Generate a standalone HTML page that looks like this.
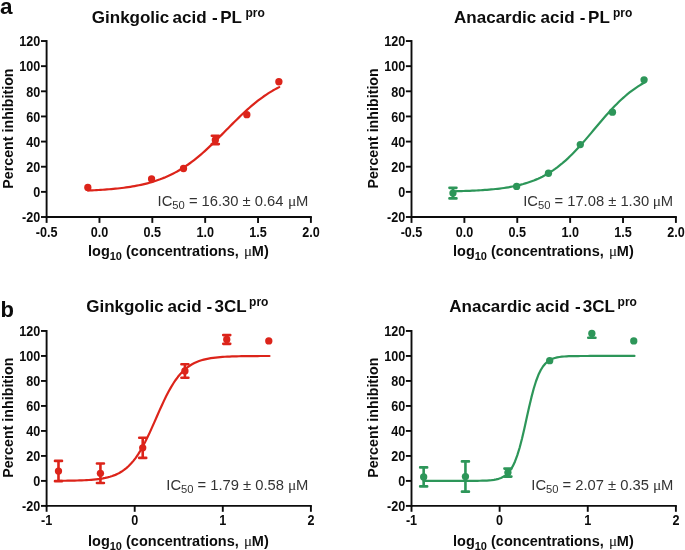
<!DOCTYPE html><html><head><meta charset="utf-8"><title>IC50 curves</title><style>html,body{margin:0;padding:0;background:#fff}svg{display:block}</style></head><body>
<svg width="685" height="550" viewBox="0 0 685 550">
<rect width="685" height="550" fill="#fff"/>
<text font-family="Liberation Sans, Arial, sans-serif" font-weight="bold" font-size="22.5" fill="#0c0c0c" x="0" y="13.6">a</text>
<text font-family="Liberation Sans, Arial, sans-serif" font-weight="bold" font-size="22" fill="#0c0c0c" x="0.5" y="317.4">b</text>
<g stroke="#0c0c0c" stroke-width="1.9" fill="none" stroke-linecap="butt">
<path d="M46.60 40.07V217.95"/>
<path d="M45.65 217.00H311.85"/>
<path d="M41.00 217.00H46.60"/>
<path d="M41.00 191.86H46.60"/>
<path d="M41.00 166.72H46.60"/>
<path d="M41.00 141.58H46.60"/>
<path d="M41.00 116.44H46.60"/>
<path d="M41.00 91.30H46.60"/>
<path d="M41.00 66.16H46.60"/>
<path d="M41.00 41.02H46.60"/>
<path d="M46.60 217.00V222.90"/>
<path d="M99.46 217.00V222.90"/>
<path d="M152.32 217.00V222.90"/>
<path d="M205.18 217.00V222.90"/>
<path d="M258.04 217.00V222.90"/>
<path d="M310.90 217.00V222.90"/>
</g>
<g font-family="Liberation Sans, Arial, sans-serif" font-weight="bold" font-size="14.4" fill="#0c0c0c">
<text transform="translate(40.25 222.30) scale(0.875 1)" text-anchor="end">-20</text>
<text transform="translate(40.25 197.16) scale(0.875 1)" text-anchor="end">0</text>
<text transform="translate(40.25 172.02) scale(0.875 1)" text-anchor="end">20</text>
<text transform="translate(40.25 146.88) scale(0.875 1)" text-anchor="end">40</text>
<text transform="translate(40.25 121.74) scale(0.875 1)" text-anchor="end">60</text>
<text transform="translate(40.25 96.60) scale(0.875 1)" text-anchor="end">80</text>
<text transform="translate(40.25 71.46) scale(0.875 1)" text-anchor="end">100</text>
<text transform="translate(40.25 46.32) scale(0.875 1)" text-anchor="end">120</text>
<text transform="translate(46.60 236.50) scale(0.875 1)" text-anchor="middle">-0.5</text>
<text transform="translate(99.46 236.50) scale(0.875 1)" text-anchor="middle">0.0</text>
<text transform="translate(152.32 236.50) scale(0.875 1)" text-anchor="middle">0.5</text>
<text transform="translate(205.18 236.50) scale(0.875 1)" text-anchor="middle">1.0</text>
<text transform="translate(258.04 236.50) scale(0.875 1)" text-anchor="middle">1.5</text>
<text transform="translate(310.90 236.50) scale(0.875 1)" text-anchor="middle">2.0</text>
</g>
<text font-family="Liberation Sans, Arial, sans-serif" font-weight="bold" font-size="14.5" fill="#0c0c0c" x="88" y="255.7">log<tspan font-size="11" dy="3.8">10</tspan><tspan dy="-3.8"> (concentrations, </tspan><tspan font-family="Liberation Serif, serif" font-weight="normal" font-size="15" dx="1.2">μ</tspan><tspan dx="-0.3">M)</tspan></text>
<text font-family="Liberation Sans, Arial, sans-serif" font-weight="bold" font-size="14.25" fill="#0c0c0c" transform="translate(12.9 128.6) rotate(-90)" text-anchor="middle">Percent inhibition</text>
<text font-family="Liberation Sans, Arial, sans-serif" font-weight="bold" font-size="17" fill="#0c0c0c" y="23"><tspan x="91.80">Ginkgolic </tspan><tspan x="172.60">acid </tspan><tspan x="212.00">- </tspan><tspan x="220.20">PL</tspan><tspan font-size="12" dy="-6.3" x="245.40">pro</tspan></text>
<text font-family="Liberation Sans, Arial, sans-serif" font-size="14.75" fill="#333" x="157.6" y="205.8">IC<tspan font-size="11.2" dy="3.6">50</tspan><tspan dy="-3.6"> = 16.30 ± 0.64 </tspan><tspan font-family="Liberation Serif, serif" font-size="15.5" x="287.90">μ</tspan><tspan x="296.00">M</tspan></text>
<path d="M87.83 190.53L89.96 190.44L92.08 190.34L94.21 190.24L96.34 190.13L98.46 190.01L100.59 189.88L102.71 189.74L104.84 189.60L106.97 189.44L109.09 189.27L111.22 189.09L113.34 188.90L115.47 188.70L117.60 188.48L119.72 188.24L121.85 187.99L123.98 187.72L126.10 187.44L128.23 187.13L130.35 186.81L132.48 186.46L134.61 186.09L136.73 185.70L138.86 185.28L140.98 184.83L143.11 184.35L145.24 183.85L147.36 183.31L149.49 182.73L151.62 182.13L153.74 181.48L155.87 180.80L157.99 180.07L160.12 179.31L162.25 178.49L164.37 177.64L166.50 176.73L168.62 175.78L170.75 174.77L172.88 173.71L175.00 172.60L177.13 171.44L179.26 170.21L181.38 168.93L183.51 167.60L185.63 166.20L187.76 164.75L189.89 163.23L192.01 161.66L194.14 160.03L196.26 158.35L198.39 156.61L200.52 154.82L202.64 152.98L204.77 151.09L206.90 149.15L209.02 147.17L211.15 145.16L213.27 143.11L215.40 141.03L217.53 138.92L219.65 136.79L221.78 134.65L223.90 132.50L226.03 130.34L228.16 128.19L230.28 126.04L232.41 123.90L234.53 121.77L236.66 119.67L238.79 117.59L240.91 115.55L243.04 113.53L245.17 111.56L247.29 109.63L249.42 107.74L251.54 105.91L253.67 104.12L255.80 102.39L257.92 100.71L260.05 99.09L262.17 97.53L264.30 96.02L266.43 94.58L268.55 93.19L270.68 91.86L272.81 90.58L274.93 89.37L277.06 88.21L279.18 87.10" fill="none" stroke="#dc241a" stroke-width="2.2" stroke-linecap="round" stroke-linejoin="round"/>
<circle cx="87.83" cy="187.46" r="3.65" fill="#dc241a"/>
<circle cx="151.58" cy="178.91" r="3.65" fill="#dc241a"/>
<circle cx="183.51" cy="168.48" r="3.65" fill="#dc241a"/>
<path d="M215.33 135.80V144.09M211.83 135.80h7.0M211.83 144.09h7.0" stroke="#dc241a" stroke-width="2.6" fill="none" stroke-linecap="round"/>
<circle cx="215.33" cy="139.95" r="3.65" fill="#dc241a"/>
<circle cx="246.83" cy="114.68" r="3.65" fill="#dc241a"/>
<circle cx="278.87" cy="81.75" r="3.65" fill="#dc241a"/>
<g stroke="#0c0c0c" stroke-width="1.9" fill="none" stroke-linecap="butt">
<path d="M411.50 40.07V217.95"/>
<path d="M410.55 217.00H676.85"/>
<path d="M405.90 217.00H411.50"/>
<path d="M405.90 191.86H411.50"/>
<path d="M405.90 166.72H411.50"/>
<path d="M405.90 141.58H411.50"/>
<path d="M405.90 116.44H411.50"/>
<path d="M405.90 91.30H411.50"/>
<path d="M405.90 66.16H411.50"/>
<path d="M405.90 41.02H411.50"/>
<path d="M411.50 217.00V222.90"/>
<path d="M464.38 217.00V222.90"/>
<path d="M517.26 217.00V222.90"/>
<path d="M570.14 217.00V222.90"/>
<path d="M623.02 217.00V222.90"/>
<path d="M675.90 217.00V222.90"/>
</g>
<g font-family="Liberation Sans, Arial, sans-serif" font-weight="bold" font-size="14.4" fill="#0c0c0c">
<text transform="translate(405.15 222.30) scale(0.875 1)" text-anchor="end">-20</text>
<text transform="translate(405.15 197.16) scale(0.875 1)" text-anchor="end">0</text>
<text transform="translate(405.15 172.02) scale(0.875 1)" text-anchor="end">20</text>
<text transform="translate(405.15 146.88) scale(0.875 1)" text-anchor="end">40</text>
<text transform="translate(405.15 121.74) scale(0.875 1)" text-anchor="end">60</text>
<text transform="translate(405.15 96.60) scale(0.875 1)" text-anchor="end">80</text>
<text transform="translate(405.15 71.46) scale(0.875 1)" text-anchor="end">100</text>
<text transform="translate(405.15 46.32) scale(0.875 1)" text-anchor="end">120</text>
<text transform="translate(411.50 236.50) scale(0.875 1)" text-anchor="middle">-0.5</text>
<text transform="translate(464.38 236.50) scale(0.875 1)" text-anchor="middle">0.0</text>
<text transform="translate(517.26 236.50) scale(0.875 1)" text-anchor="middle">0.5</text>
<text transform="translate(570.14 236.50) scale(0.875 1)" text-anchor="middle">1.0</text>
<text transform="translate(623.02 236.50) scale(0.875 1)" text-anchor="middle">1.5</text>
<text transform="translate(675.90 236.50) scale(0.875 1)" text-anchor="middle">2.0</text>
</g>
<text font-family="Liberation Sans, Arial, sans-serif" font-weight="bold" font-size="14.5" fill="#0c0c0c" x="453" y="255.7">log<tspan font-size="11" dy="3.8">10</tspan><tspan dy="-3.8"> (concentrations, </tspan><tspan font-family="Liberation Serif, serif" font-weight="normal" font-size="15" dx="1.2">μ</tspan><tspan dx="-0.3">M)</tspan></text>
<text font-family="Liberation Sans, Arial, sans-serif" font-weight="bold" font-size="14.25" fill="#0c0c0c" transform="translate(377.9 128.4) rotate(-90)" text-anchor="middle">Percent inhibition</text>
<text font-family="Liberation Sans, Arial, sans-serif" font-weight="bold" font-size="17" fill="#0c0c0c" y="23"><tspan x="454.10">Anacardic </tspan><tspan x="540.60">acid </tspan><tspan x="579.80">- </tspan><tspan x="588.10">PL</tspan><tspan font-size="12" dy="-6.3" x="613.00">pro</tspan></text>
<text font-family="Liberation Sans, Arial, sans-serif" font-size="14.75" fill="#333" x="523.2" y="205.8">IC<tspan font-size="11.2" dy="3.6">50</tspan><tspan dy="-3.6"> = 17.08 ± 1.30 </tspan><tspan font-family="Liberation Serif, serif" font-size="15.5" x="652.70">μ</tspan><tspan x="660.80">M</tspan></text>
<path d="M452.96 191.31L455.09 191.26L457.21 191.21L459.34 191.15L461.47 191.09L463.60 191.02L465.73 190.95L467.85 190.87L469.98 190.79L472.11 190.69L474.24 190.60L476.37 190.49L478.50 190.37L480.62 190.25L482.75 190.11L484.88 189.96L487.01 189.80L489.14 189.63L491.26 189.45L493.39 189.24L495.52 189.03L497.65 188.79L499.78 188.54L501.90 188.26L504.03 187.97L506.16 187.65L508.29 187.31L510.42 186.94L512.55 186.54L514.67 186.11L516.80 185.64L518.93 185.15L521.06 184.61L523.19 184.04L525.31 183.42L527.44 182.76L529.57 182.05L531.70 181.29L533.83 180.48L535.95 179.61L538.08 178.69L540.21 177.70L542.34 176.65L544.47 175.54L546.60 174.35L548.72 173.10L550.85 171.77L552.98 170.36L555.11 168.88L557.24 167.32L559.36 165.68L561.49 163.97L563.62 162.17L565.75 160.30L567.88 158.35L570.00 156.32L572.13 154.23L574.26 152.06L576.39 149.83L578.52 147.54L580.65 145.19L582.77 142.80L584.90 140.36L587.03 137.88L589.16 135.38L591.29 132.86L593.41 130.33L595.54 127.79L597.67 125.25L599.80 122.73L601.93 120.23L604.05 117.76L606.18 115.32L608.31 112.93L610.44 110.58L612.57 108.30L614.70 106.07L616.82 103.90L618.95 101.81L621.08 99.79L623.21 97.84L625.34 95.97L627.46 94.18L629.59 92.47L631.72 90.83L633.85 89.28L635.98 87.80L638.10 86.40L640.23 85.07L642.36 83.82L644.49 82.64" fill="none" stroke="#2d9659" stroke-width="2.2" stroke-linecap="round" stroke-linejoin="round"/>
<path d="M452.96 187.84V198.40M449.46 187.84h7.0M449.46 198.40h7.0" stroke="#2d9659" stroke-width="2.6" fill="none" stroke-linecap="round"/>
<circle cx="452.96" cy="193.12" r="3.65" fill="#2d9659"/>
<circle cx="516.63" cy="186.45" r="3.65" fill="#2d9659"/>
<circle cx="548.46" cy="173.26" r="3.65" fill="#2d9659"/>
<circle cx="580.29" cy="144.60" r="3.65" fill="#2d9659"/>
<circle cx="612.44" cy="112.17" r="3.65" fill="#2d9659"/>
<circle cx="644.07" cy="79.86" r="3.65" fill="#2d9659"/>
<g stroke="#0c0c0c" stroke-width="1.9" fill="none" stroke-linecap="butt">
<path d="M46.60 330.02V506.85"/>
<path d="M45.65 505.90H311.85"/>
<path d="M41.00 505.90H46.60"/>
<path d="M41.00 480.91H46.60"/>
<path d="M41.00 455.92H46.60"/>
<path d="M41.00 430.93H46.60"/>
<path d="M41.00 405.94H46.60"/>
<path d="M41.00 380.95H46.60"/>
<path d="M41.00 355.96H46.60"/>
<path d="M41.00 330.97H46.60"/>
<path d="M46.60 505.90V511.80"/>
<path d="M134.70 505.90V511.80"/>
<path d="M222.80 505.90V511.80"/>
<path d="M310.90 505.90V511.80"/>
</g>
<g font-family="Liberation Sans, Arial, sans-serif" font-weight="bold" font-size="14.4" fill="#0c0c0c">
<text transform="translate(40.25 511.20) scale(0.875 1)" text-anchor="end">-20</text>
<text transform="translate(40.25 486.21) scale(0.875 1)" text-anchor="end">0</text>
<text transform="translate(40.25 461.22) scale(0.875 1)" text-anchor="end">20</text>
<text transform="translate(40.25 436.23) scale(0.875 1)" text-anchor="end">40</text>
<text transform="translate(40.25 411.24) scale(0.875 1)" text-anchor="end">60</text>
<text transform="translate(40.25 386.25) scale(0.875 1)" text-anchor="end">80</text>
<text transform="translate(40.25 361.26) scale(0.875 1)" text-anchor="end">100</text>
<text transform="translate(40.25 336.27) scale(0.875 1)" text-anchor="end">120</text>
<text transform="translate(46.60 525.40) scale(0.875 1)" text-anchor="middle">-1</text>
<text transform="translate(134.70 525.40) scale(0.875 1)" text-anchor="middle">0</text>
<text transform="translate(222.80 525.40) scale(0.875 1)" text-anchor="middle">1</text>
<text transform="translate(310.90 525.40) scale(0.875 1)" text-anchor="middle">2</text>
</g>
<text font-family="Liberation Sans, Arial, sans-serif" font-weight="bold" font-size="14.5" fill="#0c0c0c" x="88" y="545.8">log<tspan font-size="11" dy="3.8">10</tspan><tspan dy="-3.8"> (concentrations, </tspan><tspan font-family="Liberation Serif, serif" font-weight="normal" font-size="15" dx="1.2">μ</tspan><tspan dx="-0.3">M)</tspan></text>
<text font-family="Liberation Sans, Arial, sans-serif" font-weight="bold" font-size="14.25" fill="#0c0c0c" transform="translate(12.9 417.7) rotate(-90)" text-anchor="middle">Percent inhibition</text>
<text font-family="Liberation Sans, Arial, sans-serif" font-weight="bold" font-size="17" fill="#0c0c0c" y="312.2"><tspan x="86.20">Ginkgolic </tspan><tspan x="167.60">acid </tspan><tspan x="206.40">- </tspan><tspan x="214.50">3CL</tspan><tspan font-size="12" dy="-6.3" x="249.10">pro</tspan></text>
<text font-family="Liberation Sans, Arial, sans-serif" font-size="14.75" fill="#333" x="166.3" y="489.8">IC<tspan font-size="11.2" dy="3.6">50</tspan><tspan dy="-3.6"> = 1.79 ± 0.58 </tspan><tspan font-family="Liberation Serif, serif" font-size="15.5" x="287.90">μ</tspan><tspan x="296.00">M</tspan></text>
<path d="M58.32 480.81L60.66 480.79L63.01 480.77L65.36 480.75L67.70 480.72L70.05 480.68L72.40 480.64L74.74 480.58L77.09 480.52L79.43 480.45L81.78 480.37L84.13 480.26L86.47 480.14L88.82 480.00L91.17 479.83L93.51 479.63L95.86 479.40L98.21 479.12L100.55 478.79L102.90 478.40L105.25 477.94L107.59 477.40L109.94 476.77L112.28 476.02L114.63 475.15L116.98 474.12L119.32 472.93L121.67 471.55L124.02 469.95L126.36 468.11L128.71 466.00L131.06 463.59L133.40 460.87L135.75 457.81L138.09 454.40L140.44 450.63L142.79 446.52L145.13 442.08L147.48 437.35L149.83 432.36L152.17 427.17L154.52 421.86L156.87 416.50L159.21 411.17L161.56 405.94L163.91 400.89L166.25 396.08L168.60 391.55L170.94 387.35L173.29 383.49L175.64 379.98L177.98 376.82L180.33 374.01L182.68 371.51L185.02 369.32L187.37 367.41L189.72 365.74L192.06 364.30L194.41 363.06L196.75 361.99L199.10 361.08L201.45 360.30L203.79 359.64L206.14 359.07L208.49 358.59L210.83 358.18L213.18 357.84L215.53 357.54L217.87 357.30L220.22 357.09L222.57 356.91L224.91 356.76L227.26 356.64L229.60 356.53L231.95 356.44L234.30 356.37L236.64 356.30L238.99 356.25L241.34 356.20L243.68 356.16L246.03 356.13L248.38 356.10L250.72 356.08L253.07 356.06L255.41 356.05L257.76 356.03L260.11 356.02L262.45 356.01L264.80 356.00L267.15 356.00L269.49 355.99" fill="none" stroke="#dc241a" stroke-width="2.2" stroke-linecap="round" stroke-linejoin="round"/>
<path d="M58.49 460.92V481.16M54.99 460.92h7.0M54.99 481.16h7.0" stroke="#dc241a" stroke-width="2.6" fill="none" stroke-linecap="round"/>
<circle cx="58.49" cy="471.04" r="3.65" fill="#dc241a"/>
<path d="M100.43 463.54V483.03M96.93 463.54h7.0M96.93 483.03h7.0" stroke="#dc241a" stroke-width="2.6" fill="none" stroke-linecap="round"/>
<circle cx="100.43" cy="473.29" r="3.65" fill="#dc241a"/>
<path d="M142.72 437.68V457.92M139.22 437.68h7.0M139.22 457.92h7.0" stroke="#dc241a" stroke-width="2.6" fill="none" stroke-linecap="round"/>
<circle cx="142.72" cy="447.80" r="3.65" fill="#dc241a"/>
<path d="M184.92 364.21V377.70M181.42 364.21h7.0M181.42 377.70h7.0" stroke="#dc241a" stroke-width="2.6" fill="none" stroke-linecap="round"/>
<circle cx="184.92" cy="370.95" r="3.65" fill="#dc241a"/>
<path d="M226.76 335.09V343.84M223.26 335.09h7.0M223.26 343.84h7.0" stroke="#dc241a" stroke-width="2.6" fill="none" stroke-linecap="round"/>
<circle cx="226.76" cy="339.47" r="3.65" fill="#dc241a"/>
<circle cx="268.79" cy="340.97" r="3.65" fill="#dc241a"/>
<g stroke="#0c0c0c" stroke-width="1.9" fill="none" stroke-linecap="butt">
<path d="M411.50 330.02V506.85"/>
<path d="M410.55 505.90H676.84"/>
<path d="M405.90 505.90H411.50"/>
<path d="M405.90 480.91H411.50"/>
<path d="M405.90 455.92H411.50"/>
<path d="M405.90 430.93H411.50"/>
<path d="M405.90 405.94H411.50"/>
<path d="M405.90 380.95H411.50"/>
<path d="M405.90 355.96H411.50"/>
<path d="M405.90 330.97H411.50"/>
<path d="M411.50 505.90V511.80"/>
<path d="M499.63 505.90V511.80"/>
<path d="M587.76 505.90V511.80"/>
<path d="M675.89 505.90V511.80"/>
</g>
<g font-family="Liberation Sans, Arial, sans-serif" font-weight="bold" font-size="14.4" fill="#0c0c0c">
<text transform="translate(405.15 511.20) scale(0.875 1)" text-anchor="end">-20</text>
<text transform="translate(405.15 486.21) scale(0.875 1)" text-anchor="end">0</text>
<text transform="translate(405.15 461.22) scale(0.875 1)" text-anchor="end">20</text>
<text transform="translate(405.15 436.23) scale(0.875 1)" text-anchor="end">40</text>
<text transform="translate(405.15 411.24) scale(0.875 1)" text-anchor="end">60</text>
<text transform="translate(405.15 386.25) scale(0.875 1)" text-anchor="end">80</text>
<text transform="translate(405.15 361.26) scale(0.875 1)" text-anchor="end">100</text>
<text transform="translate(405.15 336.27) scale(0.875 1)" text-anchor="end">120</text>
<text transform="translate(411.50 525.40) scale(0.875 1)" text-anchor="middle">-1</text>
<text transform="translate(499.63 525.40) scale(0.875 1)" text-anchor="middle">0</text>
<text transform="translate(587.76 525.40) scale(0.875 1)" text-anchor="middle">1</text>
<text transform="translate(675.89 525.40) scale(0.875 1)" text-anchor="middle">2</text>
</g>
<text font-family="Liberation Sans, Arial, sans-serif" font-weight="bold" font-size="14.5" fill="#0c0c0c" x="453" y="545.8">log<tspan font-size="11" dy="3.8">10</tspan><tspan dy="-3.8"> (concentrations, </tspan><tspan font-family="Liberation Serif, serif" font-weight="normal" font-size="15" dx="1.2">μ</tspan><tspan dx="-0.3">M)</tspan></text>
<text font-family="Liberation Sans, Arial, sans-serif" font-weight="bold" font-size="14.25" fill="#0c0c0c" transform="translate(377.9 417.7) rotate(-90)" text-anchor="middle">Percent inhibition</text>
<text font-family="Liberation Sans, Arial, sans-serif" font-weight="bold" font-size="17" fill="#0c0c0c" y="312.2"><tspan x="449.30">Anacardic </tspan><tspan x="535.50">acid </tspan><tspan x="574.90">- </tspan><tspan x="582.80">3CL</tspan><tspan font-size="12" dy="-6.3" x="617.60">pro</tspan></text>
<text font-family="Liberation Sans, Arial, sans-serif" font-size="14.75" fill="#333" x="531.3" y="489.8">IC<tspan font-size="11.2" dy="3.6">50</tspan><tspan dy="-3.6"> = 2.07 ± 0.35 </tspan><tspan font-family="Liberation Serif, serif" font-size="15.5" x="652.90">μ</tspan><tspan x="661.00">M</tspan></text>
<path d="M423.66 480.91L426.00 480.91L428.35 480.91L430.69 480.91L433.03 480.91L435.37 480.91L437.72 480.91L440.06 480.91L442.40 480.91L444.74 480.91L447.08 480.91L449.43 480.91L451.77 480.91L454.11 480.91L456.45 480.91L458.80 480.90L461.14 480.90L463.48 480.90L465.82 480.89L468.17 480.89L470.51 480.87L472.85 480.86L475.19 480.84L477.53 480.81L479.88 480.77L482.22 480.72L484.56 480.64L486.90 480.53L489.25 480.37L491.59 480.16L493.93 479.85L496.27 479.43L498.62 478.83L500.96 478.01L503.30 476.86L505.64 475.29L507.98 473.14L510.33 470.25L512.67 466.41L515.01 461.43L517.35 455.14L519.70 447.46L522.04 438.47L524.38 428.44L526.72 417.86L529.07 407.32L531.41 397.39L533.75 388.53L536.09 380.99L538.43 374.84L540.78 370.00L543.12 366.27L545.46 363.47L547.80 361.39L550.15 359.87L552.49 358.76L554.83 357.97L557.17 357.39L559.52 356.98L561.86 356.69L564.20 356.48L566.54 356.33L568.88 356.22L571.23 356.15L573.57 356.09L575.91 356.05L578.25 356.03L580.60 356.01L582.94 355.99L585.28 355.98L587.62 355.98L589.97 355.97L592.31 355.97L594.65 355.97L596.99 355.96L599.33 355.96L601.68 355.96L604.02 355.96L606.36 355.96L608.70 355.96L611.05 355.96L613.39 355.96L615.73 355.96L618.07 355.96L620.42 355.96L622.76 355.96L625.10 355.96L627.44 355.96L629.78 355.96L632.13 355.96L634.47 355.96" fill="none" stroke="#2d9659" stroke-width="2.2" stroke-linecap="round" stroke-linejoin="round"/>
<path d="M423.66 467.42V486.41M420.16 467.42h7.0M420.16 486.41h7.0" stroke="#2d9659" stroke-width="2.6" fill="none" stroke-linecap="round"/>
<circle cx="423.66" cy="476.91" r="3.65" fill="#2d9659"/>
<path d="M465.44 461.42V491.66M461.94 461.42h7.0M461.94 491.66h7.0" stroke="#2d9659" stroke-width="2.6" fill="none" stroke-linecap="round"/>
<circle cx="465.44" cy="476.54" r="3.65" fill="#2d9659"/>
<path d="M507.91 468.60V476.60M504.41 468.60h7.0M504.41 476.60h7.0" stroke="#2d9659" stroke-width="2.6" fill="none" stroke-linecap="round"/>
<circle cx="507.91" cy="472.60" r="3.65" fill="#2d9659"/>
<circle cx="549.69" cy="360.71" r="3.65" fill="#2d9659"/>
<path d="M591.86 333.47V337.72M588.26 337.72h7.2" stroke="#2d9659" stroke-width="2.6" fill="none" stroke-linecap="round"/>
<circle cx="591.86" cy="333.47" r="3.65" fill="#2d9659"/>
<circle cx="633.76" cy="340.97" r="3.65" fill="#2d9659"/>
</svg></body></html>
